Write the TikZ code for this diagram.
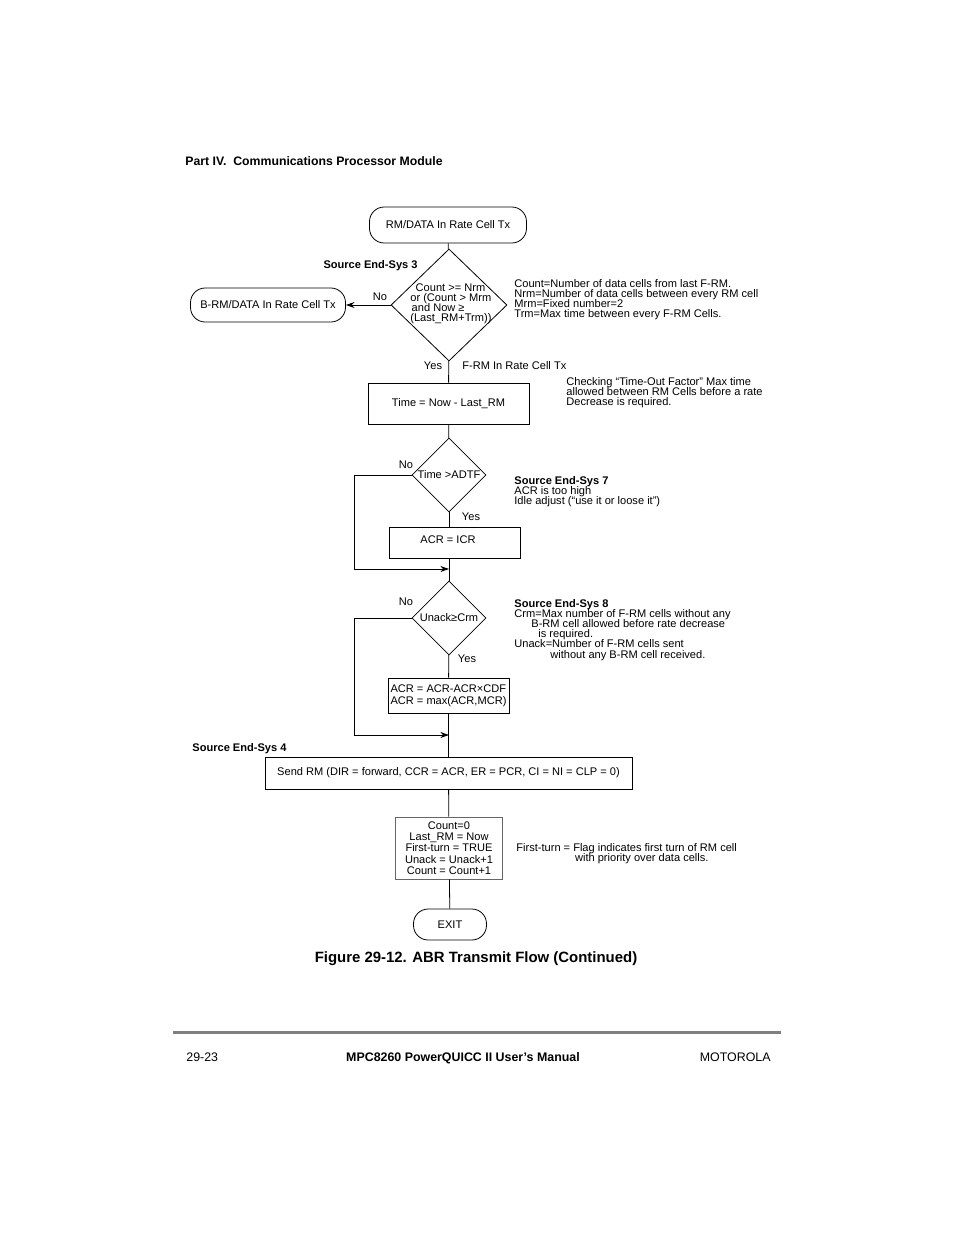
\documentclass[tikz,border=0pt]{standalone}
\usepackage{fontspec}
\setmainfont{Liberation Sans}
\usetikzlibrary{arrows.meta}
\usetikzlibrary{shapes.geometric}
\newcommand\tightlines{\lineskiplimit=-20pt\relax}

\begin{document}
\begin{tikzpicture}[x=0.75pt,y=-0.75pt,
  every node/.style={font=\fontsize{8.3}{7.6}\selectfont\tightlines, inner sep=0pt},
  termbox/.style={draw, line width=0.6pt, rounded corners=11pt},
  procbox/.style={draw, line width=0.6pt},
  decision/.style={draw, diamond, line width=0.6pt},
  note/.style={align=left, anchor=north west},
  bnote/.style={font=\bfseries\fontsize{8.3}{7.6}\selectfont},
  >={Stealth[length=6.5pt,width=4.5pt]}, line width=0.6pt]
\useasboundingbox (0,0) rectangle (954,1235);

% page header
\node[font=\bfseries\fontsize{9.2}{11}\selectfont, anchor=west] (hdr) at (185,161) {Part IV.\ \ Communications Processor Module};

% top part of the flow
\node[termbox, minimum width={157*0.75pt}, minimum height={36*0.75pt}] (start) at (448,225) {RM/DATA In Rate Cell Tx};
\node[decision, minimum width={116*0.75pt}, minimum height={112*0.75pt}] (d1) at (449,305) {};
\node[align=left, anchor=west] (d1txt) at (410,304) {\hspace*{4pt}Count >= Nrm\\or (Count > Mrm\\\hspace*{1pt}and Now ≥\\(Last\_RM+Trm))};
\node[bnote, anchor=east] (se3) at (418,265.5) {Source End-Sys 3};
\node[termbox, minimum width={155*0.75pt}, minimum height={34*0.75pt}] (brm) at (268,305) {B-RM/DATA In Rate Cell Tx};
\node (no1) at (380,297) {No};
\node[note] (n1) at (514,279) {Count=Number of data cells from last F-RM.\\Nrm=Number of data cells between every RM cell\\Mrm=Fixed number=2\\Trm=Max time between every F-RM Cells.};
\node (yes1) at (433,366) {Yes};
\node[anchor=west] (frm) at (462,366) {F-RM In Rate Cell Tx};
\node[procbox, minimum width={161*0.75pt}, minimum height={41*0.75pt}] (time) at (448.5,403.5) {Time = Now - Last\_RM};
\node[note] (n2) at (566,377) {Checking “Time-Out Factor” Max time\\allowed between RM Cells before a rate\\Decrease is required.};

% idle adjust
\node[decision, minimum width={74*0.75pt}, minimum height={74*0.75pt}] (d2) at (449,475) {};
\node (d2txt) at (449,475) {Time >ADTF};
\node (no2) at (406,465) {No};
\node (yes2) at (471,517) {Yes};
\node[note] (n3) at (514,476) {{\bfseries Source End-Sys 7}\\ACR is too high\\Idle adjust (“use it or loose it”)};
\node[procbox, minimum width={131*0.75pt}, minimum height={31*0.75pt}] (acr) at (454.5,542.5) {};
\node (acrtxt) at (448,540) {ACR = ICR};
\coordinate (j1) at (449,569);

% rate decrease
\node[decision, minimum width={74*0.75pt}, minimum height={74*0.75pt}] (d3) at (449,618) {};
\node (d3txt) at (449,618) {Unack≥Crm};
\node (no3) at (406,602) {No};
\node (yes3) at (467,659) {Yes};
\node[note] (n4) at (514,599) {{\bfseries Source End-Sys 8}\\Crm=Max number of F-RM cells without any\\\hspace*{12.75pt}B-RM cell allowed before rate decrease\\\hspace*{18pt}is required.\\Unack=Number of F-RM cells sent\\\hspace*{27pt}without any B-RM cell received.};
\node[procbox, align=left, inner sep=1pt, minimum width={121*0.75pt}, minimum height={35*0.75pt}, font=\fontsize{8.3}{9}\selectfont] (acr2) at (448.5,695.5) {ACR = ACR-ACR×CDF\\ACR = max(ACR,MCR)};
\coordinate (j2) at (449,735);

% send RM and update
\node[bnote, anchor=west] (se4) at (192,748.5) {Source End-Sys 4};
\node[procbox, draw=black!60, align=center, minimum width={107*0.75pt}, minimum height={62*0.75pt}, font=\fontsize{8.3}{8.4}\selectfont\tightlines] (count) at (449,848) {Count=0\\Last\_RM = Now\\First-turn = TRUE\\Unack = Unack+1\\Count = Count+1};
\node[procbox, minimum width={367*0.75pt}, minimum height={32*0.75pt}] (send) at (448.5,773) {Send RM (DIR = forward, CCR = ACR, ER = PCR, CI = NI = CLP = 0)};
\node[note] (n5) at (516,843) {First-turn = Flag indicates first turn of RM cell\\\hspace*{44pt}with priority over data cells.};
\node[termbox, minimum width={73*0.75pt}, minimum height={31*0.75pt}] (exit) at (450,924.5) {EXIT};

% connectors
\draw (start) -- (d1);
\draw[->] (d1) -- (brm);
\draw (d1) -- (time);
\draw (time) -- (d2);
\draw (d2.south) -- (d2.south |- acr.north);
\draw (d2.south |- acr.south) -- (d3.north);
\draw[->] (d2.west) -- ++(-57,0) |- (j1);
\draw (d3) -- (acr2);
\draw (acr2) -- (send);
\draw[->] (d3.west) -- ++(-57,0) |- (j2);
\draw (send) -- (count);
\draw (count) -- (exit);

% caption and footer
\node[font=\bfseries\fontsize{11.2}{13}\selectfont] (cap) at (476,958.5) {Figure 29-12. ABR Transmit Flow (Continued)};
\draw[line width=2.25pt, black!50] (173,1032) -- (781,1032);
\node[font=\fontsize{9.3}{11}\selectfont, anchor=west] (pg) at (186,1057) {29-23};
\node[font=\bfseries\fontsize{9.3}{11}\selectfont] (man) at (463,1058.5) {MPC8260 PowerQUICC II User’s Manual};
\node[font=\fontsize{9.3}{11}\selectfont, anchor=east] (moto) at (771,1057) {MOTOROLA};
\end{tikzpicture}
\end{document}
